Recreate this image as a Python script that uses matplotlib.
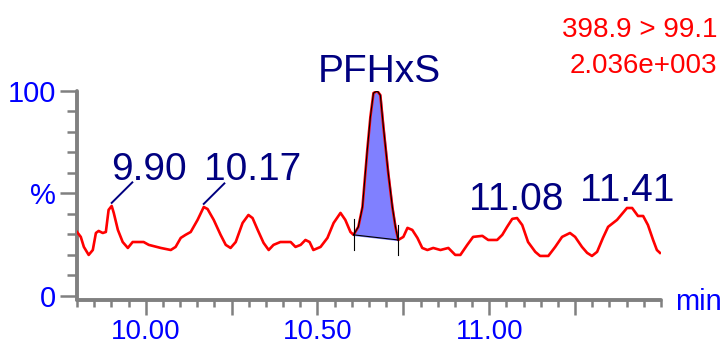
# chromatogram of PFHxS (398.9 > 99.1) with integrated peak and labelled noise peaks
import numpy as np
import matplotlib.pyplot as plt
from matplotlib.ticker import FixedLocator, MultipleLocator

plt.rcParams['font.family'] = ['Liberation Sans', 'DejaVu Sans']

# retention time (min) and relative intensity (%)
times = [9.80, 9.811, 9.820, 9.834, 9.846, 9.855, 9.863, 9.875, 9.884, 9.892,
         9.901, 9.907, 9.919, 9.933, 9.948, 9.962, 9.994, 10.009, 10.044, 10.073,
         10.087, 10.102, 10.116, 10.131, 10.151, 10.169, 10.180, 10.198, 10.218, 10.233,
         10.247, 10.262, 10.282, 10.299, 10.311, 10.326, 10.343, 10.358, 10.372, 10.392,
         10.422, 10.436, 10.451, 10.465, 10.477, 10.488, 10.509, 10.529, 10.547, 10.567,
         10.581, 10.596, 10.605, 10.619, 10.631, 10.645, 10.654, 10.663, 10.674, 10.683,
         10.692, 10.706, 10.718, 10.727, 10.735, 10.750, 10.762, 10.776, 10.791, 10.805,
         10.820, 10.837, 10.858, 10.881, 10.901, 10.916, 10.936, 10.953, 10.980, 10.997,
         11.023, 11.038, 11.052, 11.067, 11.081, 11.096, 11.113, 11.134, 11.148, 11.172,
         11.192, 11.212, 11.235, 11.250, 11.270, 11.285, 11.299, 11.314, 11.331, 11.346,
         11.372, 11.401, 11.416, 11.433, 11.448, 11.462, 11.477, 11.488, 11.497]
intensity = [31.2, 28.8, 23.9, 20.0, 22.4, 30.7, 31.7, 30.7, 31.2, 42.0,
             43.9, 40.5, 32.2, 26.3, 23.4, 26.3, 26.3, 24.9, 23.4, 22.4,
             23.9, 28.3, 29.8, 31.2, 37.1, 43.4, 42.4, 37.1, 29.8, 24.9,
             23.4, 26.3, 35.6, 39.5, 38.0, 32.2, 25.9, 22.4, 24.9, 26.3,
             26.3, 23.9, 24.9, 27.3, 26.3, 22.4, 23.9, 28.3, 35.6, 40.5,
             37.1, 31.2, 29.8, 33.7, 43.4, 71.2, 87.3, 99.0, 100.0, 98.0,
             82.4, 60.0, 43.4, 33.7, 27.3, 28.8, 33.2, 32.2, 28.3, 23.4,
             22.4, 23.4, 22.4, 23.4, 20.0, 20.0, 24.9, 28.8, 29.3, 27.3,
             27.3, 29.8, 33.7, 37.6, 38.0, 34.6, 26.3, 21.5, 19.5, 19.5,
             23.9, 28.8, 30.7, 28.8, 23.9, 21.0, 19.5, 21.5, 28.3, 33.7,
             37.1, 42.9, 42.9, 39.0, 39.0, 34.6, 27.3, 22.4, 21.0]

# integration limits of the PFHxS peak (start, end)
peak_start = [10.605, 29.8]
peak_end = [10.735, 27.3]

# labels (text, x, baseline y)
label_text = ['9.90', '10.17', 'PFHxS', '11.08', '11.41']
label_x = [10.009, 10.312, 10.680, 11.078, 11.401]
label_y = [56.6, 56.6, 104.4, 42.0, 46.3]
# short leader lines for the first two labels (peak time, peak height)
leader_t = [9.901, 10.169]
leader_h = [43.9, 43.4]

t = np.array(times)
y = np.array(intensity)

fig = plt.figure(figsize=(7.27, 3.47), dpi=100)
ax = fig.add_axes([77/727, 47/347, 584/727, 209/347])

# shaded integrated peak above the straight baseline
inside = (t >= peak_start[0]) & (t <= peak_end[0])
base = np.interp(t[inside], [peak_start[0], peak_end[0]], [peak_start[1], peak_end[1]])
ax.fill_between(t[inside], base, y[inside], color='#8080ff', zorder=2)
ax.plot(t, y, color='red', lw=1.9, zorder=3)
ax.plot(t[inside], y[inside], color='black', lw=0.8, zorder=4)
ax.plot([peak_start[0], peak_end[0]], [peak_start[1], peak_end[1]], color='black', lw=0.8, zorder=4)
for px, py in [peak_start, peak_end]:
    ax.plot([px, px], [py - 7.5, py + 7.5], color='black', lw=0.8, zorder=4)

# peak labels
for i in range(len(label_text)):
    ax.text(label_x[i], label_y[i], label_text[i], color='#000080', fontsize=28,
            ha='center', va='baseline', zorder=5)
for lt, lh in zip(leader_t, leader_h):
    ax.plot([lt, lt + 0.06], [lh + 1.5, lh + 11.5], color='#000080', lw=1.4)

# axes styling
ax.set_xlim(9.80, 11.50)
ax.set_ylim(-2, 100)
for s in ['top', 'right']:
    ax.spines[s].set_visible(False)
for s in ['left', 'bottom']:
    ax.spines[s].set_color('#808080')
    ax.spines[s].set_linewidth(2.8)
    ax.spines[s].set_capstyle('round')

ax.xaxis.set_major_locator(FixedLocator([10.00, 10.25, 10.50, 10.75, 11.00, 11.25]))
ax.set_xticklabels(['10.00', '', '10.50', '', '11.00', ''])
ax.xaxis.set_minor_locator(MultipleLocator(0.05))
ax.set_yticks([0, 50, 100])
ax.set_yticklabels(['0', '%', '100'])
ax.yaxis.set_minor_locator(MultipleLocator(10))

ax.tick_params(axis='x', which='major', length=11, width=1.8, color='#808080',
               labelsize=20, labelcolor='blue', pad=2.5)
ax.tick_params(axis='x', which='minor', length=5, width=1.8, color='#808080')
ax.tick_params(axis='y', which='major', length=12, width=1.8, color='#808080',
               labelsize=21, labelcolor='blue', pad=3)
ax.tick_params(axis='y', which='minor', length=7, width=1.8, color='#808080')

fig.text(675/727, 37/347, 'min', color='blue', fontsize=21, ha='left', va='baseline')
fig.text(717/727, 310/347, '398.9 > 99.1', color='red', fontsize=20, ha='right', va='baseline')
fig.text(717/727, 274/347, '2.036e+003', color='red', fontsize=20, ha='right', va='baseline')

fig.savefig('out.png', dpi=100)
